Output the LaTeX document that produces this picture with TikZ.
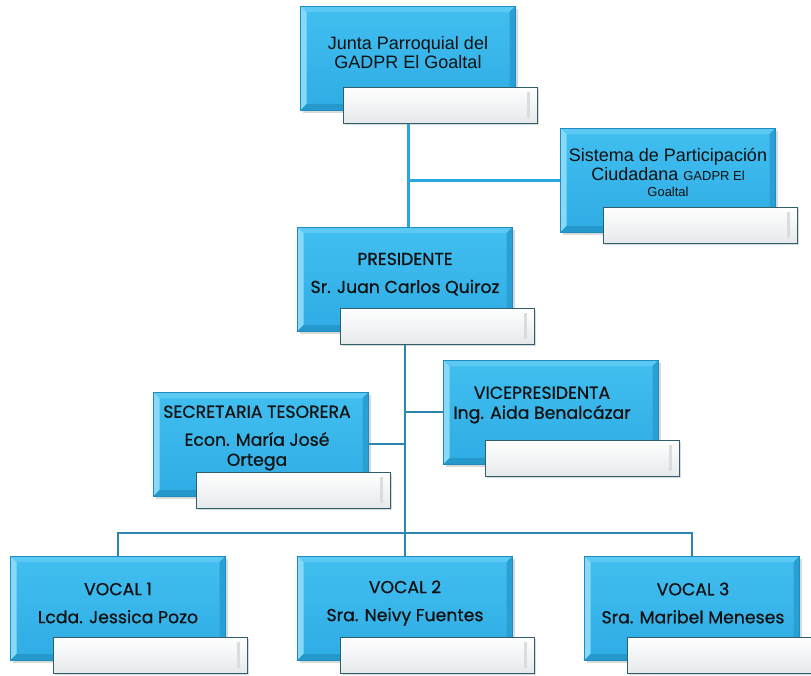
\documentclass[tikz,border=0pt]{standalone}
\usepackage{fontspec}
\newfontfamily\gothic[FakeBold=0.7]{Poppins}
\newfontfamily\arialf{Liberation Sans}
\usetikzlibrary{shadows,backgrounds}
\definecolor{boxedge}{HTML}{1F8CC0}
\definecolor{boxtop}{HTML}{42BFF0}
\definecolor{boxbot}{HTML}{2EACE4}
\definecolor{bevlight}{HTML}{86DAF8}
\definecolor{bevtop}{HTML}{5BC9F3}
\definecolor{bevdark}{HTML}{2A9FD4}
\definecolor{bevbot}{HTML}{2598CC}
\definecolor{tagedge}{HTML}{2F5F6B}
\definecolor{tagbot}{HTML}{E6E9EB}
\definecolor{tagstrip}{HTML}{D9DDDF}
\definecolor{topline}{HTML}{29A8E0}
\definecolor{lowline}{HTML}{2C86B0}
\definecolor{txt}{HTML}{111111}
\tikzset{
  bluebox/.style={rectangle, inner sep=0pt, minimum width=215pt, minimum height=104pt,
    draw=boxedge, line width=0.6pt, top color=boxtop, bottom color=boxbot,
    drop shadow={shadow xshift=2pt, shadow yshift=-3pt, opacity=0.3},
    path picture={
      \fill[bevlight] (path picture bounding box.north west) -- ([shift={(6pt,-6pt)}]path picture bounding box.north west)
        -- ([shift={(6pt,6pt)}]path picture bounding box.south west) -- (path picture bounding box.south west) -- cycle;
      \fill[bevtop] (path picture bounding box.north west) -- ([shift={(6pt,-6pt)}]path picture bounding box.north west)
        -- ([shift={(-6pt,-6pt)}]path picture bounding box.north east) -- (path picture bounding box.north east) -- cycle;
      \fill[bevdark] (path picture bounding box.north east) -- ([shift={(-6pt,-6pt)}]path picture bounding box.north east)
        -- ([shift={(-6pt,6pt)}]path picture bounding box.south east) -- (path picture bounding box.south east) -- cycle;
      \fill[bevbot] (path picture bounding box.south west) -- ([shift={(6pt,6pt)}]path picture bounding box.south west)
        -- ([shift={(-6pt,6pt)}]path picture bounding box.south east) -- (path picture bounding box.south east) -- cycle;
    }},
  tagbox/.style={rectangle, inner sep=0pt, minimum width=194pt, minimum height=36pt,
    draw=tagedge, line width=1pt, top color=white, bottom color=tagbot,
    drop shadow={shadow xshift=2pt, shadow yshift=-2pt, opacity=0.3},
    path picture={
      \fill[tagstrip] ([shift={(-10pt,-5pt)}]path picture bounding box.north east) rectangle ([shift={(-7pt,5pt)}]path picture bounding box.south east);
    }},
  gtext/.style={align=center, text=txt, font=\gothic\fontsize{17.3}{20}\selectfont, inner sep=0pt},
  atext/.style={align=center, text=txt, font=\arialf\fontsize{18}{19}\selectfont, inner sep=0pt},
  upline/.style={draw=topline, line width=3pt},
  loline/.style={draw=lowline, line width=1.4pt},
}
\begin{document}
\begin{tikzpicture}[x=1pt,y=-1pt]
\useasboundingbox (0,0) rectangle (811,675);
% boxes
\node[bluebox] (junta) at (408,58) {};
\node[tagbox] (juntatag) at (440,105) {};
\node[atext] (juntatxt) at (408,53) {Junta Parroquial del\\GADPR El Goaltal};

\node[bluebox] (sis) at (668,180) {};
\node[tagbox] (sistag) at (700,225) {};
\node[atext] (sistxt) at (668,172) {Sistema de Participación\\Ciudadana {\fontsize{13}{14}\selectfont GADPR El}\\[-3pt]{\fontsize{13}{14}\selectfont Goaltal}};

\node[bluebox] (pres) at (405,279) {};
\node[tagbox] (prestag) at (437,326) {};
\node[gtext] (prestxt) at (405,274) {PRESIDENTE\\[8pt]Sr. Juan Carlos Quiroz};

\node[bluebox] (sec) at (261,444) {};
\node[tagbox] (sectag) at (293,490) {};
\node[gtext] (sectxt) at (257,438) {SECRETARIA TESORERA\\[8pt]Econ. María José\\Ortega};

\node[bluebox] (vice) at (551,412) {};
\node[tagbox] (vicetag) at (582,458) {};
\node[gtext] (vicetxt) at (542,405) {VICEPRESIDENTA\\[0pt]Ing. Aida Benalcázar};

\node[bluebox] (v1) at (118,608) {};
\node[tagbox] (v1tag) at (150,655) {};
\node[gtext] (v1txt) at (118,603) {VOCAL 1\\[8pt]Lcda. Jessica Pozo};

\node[bluebox] (v2) at (405,608) {};
\node[tagbox] (v2tag) at (437,655) {};
\node[gtext] (v2txt) at (405,603) {VOCAL 2\\[8pt]Sra. Neivy Fuentes};

\node[bluebox] (v3) at (692,608) {};
\node[tagbox] (v3tag) at (724,655) {};
\node[gtext] (v3txt) at (693,603) {VOCAL 3\\[8pt]Sra. Maribel Meneses};

\coordinate (bus) at (405,533);
% connectors
\begin{scope}[on background layer]
  \draw[upline] (junta.center) -- (junta.center |- pres.north);
  \draw[upline] (junta.center |- sis.west) -- (sis.west);
  \draw[loline] (pres.center) -- (pres.center |- v2.north);
  \draw[loline] (sec.east) -- (sec.east -| pres.center);
  \draw[loline] (vice.west) -- (vice.west -| pres.center);
  \draw[loline] (v1.north) -- (v1.north |- bus) -- (v3.north |- bus) -- (v3.north);
\end{scope}
\end{tikzpicture}
\end{document}
